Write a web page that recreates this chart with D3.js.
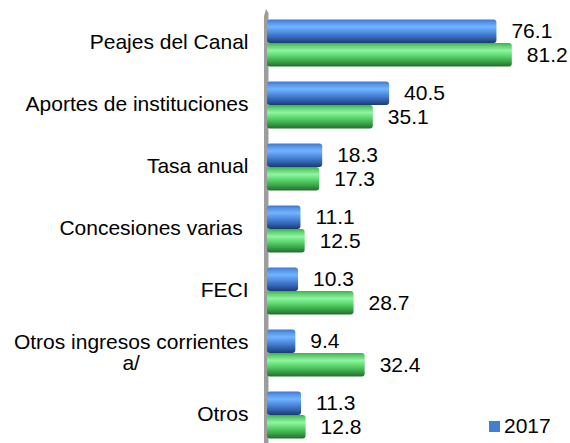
<!DOCTYPE html>
<html>
<head>
<meta charset="utf-8">
<script src="https://cdn.jsdelivr.net/npm/d3@7"></script>
<style>
  html, body { margin: 0; padding: 0; background: #ffffff; }
  svg { display: block; font-family: "Liberation Sans", Arial, sans-serif; }
</style>
</head>
<body>
<svg id="chart" width="570" height="443"></svg>
<script>
// ---- data ----
const categories = [
  "Peajes del Canal",
  "Aportes de instituciones",
  "Tasa anual",
  "Concesiones varias ",
  "FECI",
  "Otros ingresos corrientes a/",
  "Otros"
];
const values2017 = [76.1, 40.5, 18.3, 11.1, 10.3, 9.4, 11.3];
const values2018 = [81.2, 35.1, 17.3, 12.5, 28.7, 32.4, 12.8];
const seriesNames = ["2017", "2018"];
const legendNames = ["2017"];

// ---- setup ----
const svg = d3.select("#chart");
const x0 = 267;

const x = d3.scaleLinear().domain([0, 100]).range([x0, x0 + 301.5]);
const y = d3.scaleBand().domain(categories).range([12, 446]).paddingInner(0.24).paddingOuter(0.12);
const ySub = d3.scaleBand().domain(seriesNames).range([0, y.bandwidth()]).padding(0);

const defs = svg.append("defs");
function grad(id, stops) {
  const g = defs.append("linearGradient").attr("id", id)
    .attr("x1", 0).attr("y1", 0).attr("x2", 0).attr("y2", 1);
  stops.forEach(([o, c]) => g.append("stop").attr("offset", o).attr("stop-color", c));
}
grad("gBlue", [[0, "#3f74c8"], [0.12, "#5592e6"], [0.32, "#72b4ff"], [0.55, "#4f8be0"], [0.8, "#2f60ad"], [1, "#1d3a70"]]);
grad("gGreen", [[0, "#3fae4e"], [0.12, "#5fcf6e"], [0.32, "#8ff5a0"], [0.55, "#5ad66c"], [0.8, "#37a046"], [1, "#236b2d"]]);
const fills = { "2017": "url(#gBlue)", "2018": "url(#gGreen)" };
const legendColor = { "2017": "#3f7fd4" };

// ---- axis wall (vertical line) ----
svg.append("path")
  .attr("d", "M264,16 L266,9 L268.5,13 L268.5,443 L264,443 Z")
  .attr("fill", "#9d9d9d");

// ---- bars ----
const rows = categories.map((c, i) => ({
  cat: c,
  vals: [
    { s: "2017", v: values2017[i] },
    { s: "2018", v: values2018[i] }
  ]
}));

const groups = svg.append("g").selectAll("g").data(rows).join("g")
  .attr("transform", d => `translate(0,${y(d.cat)})`);

groups.selectAll("rect").data(d => d.vals).join("rect")
  .attr("x", x(0))
  .attr("y", d => ySub(d.s))
  .attr("width", d => x(d.v) - x(0))
  .attr("height", ySub.bandwidth())
  .attr("rx", 3).attr("ry", 3)
  .attr("fill", d => fills[d.s]);

groups.selectAll("text.val").data(d => d.vals).join("text")
  .attr("class", "val")
  .attr("x", d => x(d.v) + 15)
  .attr("y", d => ySub(d.s) + ySub.bandwidth() / 2 + 7)
  .attr("font-size", 21)
  .attr("fill", "#000")
  .text(d => d.v.toFixed(1));

// ---- category labels ----
const labelX = 248.5;
rows.forEach(r => {
  const cy = y(r.cat) + y.bandwidth() / 2;
  if (r.cat === "Otros ingresos corrientes a/") {
    const t1 = svg.append("text")
      .attr("x", labelX).attr("y", cy - 4.5)
      .attr("text-anchor", "end").attr("font-size", 21).attr("fill", "#000")
      .text("Otros ingresos corrientes");
    const w = t1.node().getComputedTextLength();
    svg.append("text")
      .attr("x", labelX - w / 2).attr("y", cy + 16.5)
      .attr("text-anchor", "middle").attr("font-size", 21).attr("fill", "#000")
      .text("a/");
  } else {
    svg.append("text")
      .attr("x", labelX).attr("y", cy + 5.5)
      .attr("text-anchor", "end").attr("font-size", 21).attr("fill", "#000")
      .style("white-space", "pre")
      .text(r.cat);
  }
});

// ---- legend ----
const lg = svg.append("g").selectAll("g").data(legendNames).join("g")
  .attr("transform", (d, i) => `translate(489,${421 + i * 25})`);
lg.append("rect").attr("width", 11).attr("height", 11).attr("fill", d => legendColor[d]);
lg.append("text").attr("x", 15).attr("y", 11.5).attr("font-size", 21).attr("fill", "#000").text(d => d);
</script>
</body>
</html>
